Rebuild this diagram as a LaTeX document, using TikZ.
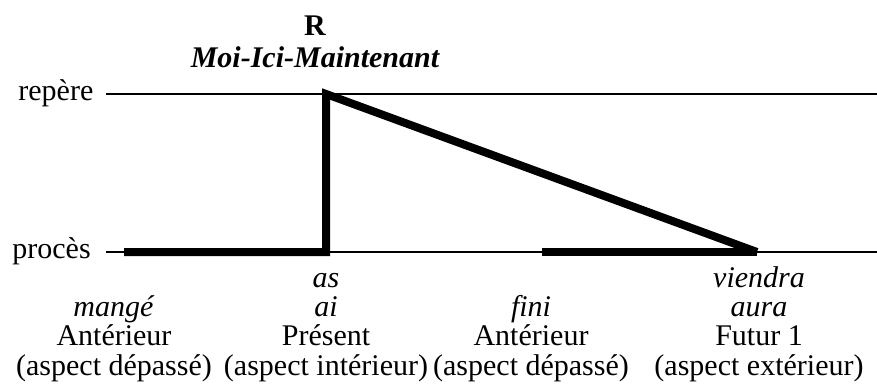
\documentclass[tikz,border=0pt]{standalone}
\usepackage{fontspec}
\setmainfont{Liberation Serif}
\usetikzlibrary{positioning}
\tikzset{axe/.style={line width=1.1pt}, trait/.style={line width=4pt}, lab/.style={font=\fontsize{15}{14.6}\selectfont, inner sep=0pt}, col/.style={lab, align=center, anchor=base}}

\begin{document}
\begin{tikzpicture}[x=0.5pt,y=-0.5pt]
\useasboundingbox (0,0) rectangle (877,385);
% axes
\node[lab, anchor=base west] (rep) at (18,101) {repère};
\node[lab, anchor=base west] (proc) at (12,258) {procès};
\coordinate (r0) at (106,94); \coordinate (r1) at (877,94);
\coordinate (p0) at (106,252); \coordinate (p1) at (877,252);
\draw[axe] (r0)--(r1); \draw[axe] (p0)--(p1);
% traits epais
\coordinate (a0) at (124,252); \coordinate (pres) at (326,252); \coordinate (sommet) at (326,94);
\coordinate (f0) at (542,252); \coordinate (fut) at (757,252);
\draw[trait] (a0)--(pres)--(sommet)--(fut);
\draw[trait] (f0)--(fut);
% R
\node[lab, anchor=base, font=\fontsize{15}{15}\selectfont\bfseries\itshape] (moi) at (315,68) {Moi-Ici-Maintenant};
\node[lab, font=\fontsize{15}{15}\selectfont\bfseries, above=5.5pt of moi] (R) {R};
% formes (base = derniere ligne)
\node[col] (mange) at (114,375) {\textit{mangé}\\Antérieur\\(aspect dépassé)};
\node[col] (ai) at (326,375) {\textit{as}\\\textit{ai}\\Présent\\(aspect intérieur)};
\node[col] (fini) at (531,375) {\textit{fini}\\Antérieur\\(aspect dépassé)};
\node[col] (aura) at (759,375) {\textit{viendra}\\\textit{aura}\\Futur 1\\(aspect extérieur)};
\end{tikzpicture}
\end{document}
